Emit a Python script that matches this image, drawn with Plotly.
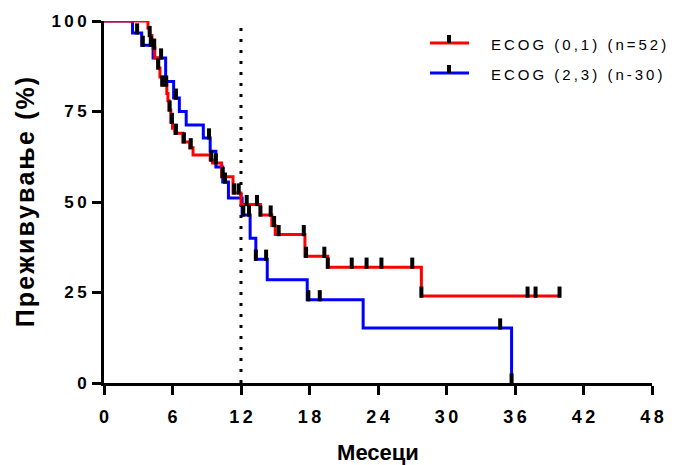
import plotly.graph_objects as go

# ---- data ----
red_t = [0, 3.85, 4.0, 4.2, 4.3, 4.45, 4.7, 4.9, 5.1, 5.5, 5.6, 5.7, 5.85, 6.0, 6.2, 6.9, 7.5, 7.8, 9.3, 9.5, 10.3, 11.3, 12.0, 13.7, 14.7, 15.0, 17.6, 19.6, 27.8, 40.0]
red_s = [100, 98, 96, 94, 92.5, 89.8, 87, 84.5, 82.3, 80, 78, 75.4, 72, 70.4, 69, 66.6, 65, 63, 61.6, 60.8, 57, 52.5, 49.3, 46.4, 43.5, 41, 35, 32, 24, 24]
red_cens_t = [4.0, 4.4, 4.75, 5.1, 5.45, 5.75, 5.95, 6.3, 7.0, 7.6, 9.4, 9.8, 10.4, 11.4, 11.8, 12.5, 13.4, 13.7, 14.6, 14.9, 15.3, 17.5, 17.7, 19.3, 19.6, 21.7, 23.0, 24.3, 27.0, 27.8, 37.1, 37.8, 39.9]

blue_t = [0, 2.5, 3.3, 4.3, 5.4, 6.1, 6.6, 7.2, 8.7, 9.3, 9.8, 10.4, 10.9, 12.1, 12.8, 13.3, 14.3, 17.8, 22.7, 35.7]
blue_s = [100, 96.7, 93.3, 89.8, 83.3, 78.7, 75, 71.3, 67.7, 64, 59.7, 55.5, 51.1, 46.4, 40, 34.2, 28.5, 23, 15.2, 0]
blue_cens_t = [2.9, 3.4, 4.1, 5.0, 6.3, 9.2, 10.6, 12.2, 12.7, 13.3, 14.2, 17.9, 18.9, 34.7, 35.7]

series_names = ["ECOG (0,1) (n=52)", "ECOG (2,3) (n-30)"]
series_colors = ["#ff0000", "#0000ff"]
x_ticks = [0, 6, 12, 18, 24, 30, 36, 42, 48]
y_ticks = [0, 25, 50, 75, 100]
ref_month = 12
x_title = "Месеци"
y_title = "Преживување (%)"

TICK_LIFT = 1.1  # censor tick sits just above the line (in % units)

W, H = 689, 465
ML, MR, MT, MB = 104, 37, 21, 82
PW, PH = W - ML - MR, H - MT - MB


def px_x(px):
    return (px - ML) / PW


def px_y(py):
    return (H - MB - py) / PH


def step_value(ts, ss, t):
    v = ss[0]
    for ti, si in zip(ts, ss):
        if ti <= t:
            v = si
    return v


def spaced(s, sep="\u2009"):
    return sep.join(list(s))


def legend_text(s):
    out = []
    for word in s.split(" "):
        out.append("\u2009".join(list(word)))
    return "\u2009 \u2009".join(out)


FONT = "Liberation Sans, Arial, sans-serif"
fig = go.Figure()

curves = [(red_t, red_s, red_cens_t), (blue_t, blue_s, blue_cens_t)]
for idx in [1, 0]:
    ts, ss, cs = curves[idx]
    fig.add_trace(go.Scatter(x=ts, y=ss, mode="lines", line=dict(color=series_colors[idx], width=3, shape="hv"),
                             showlegend=False, hoverinfo="skip", cliponaxis=False))
for idx in [1, 0]:
    ts, ss, cs = curves[idx]
    cy = [step_value(ts, ss, c) + TICK_LIFT for c in cs]
    fig.add_trace(go.Scatter(x=cs, y=cy, mode="markers",
                             marker=dict(symbol="line-ns", size=8, color="black", line=dict(color="black", width=4)),
                             showlegend=False, hoverinfo="skip", cliponaxis=False))

# legend built from paper-positioned shapes and text
legend_rows_py = [43, 73]
for idx in [0, 1]:
    py = legend_rows_py[idx]
    fig.add_shape(type="line", xref="paper", yref="paper", x0=px_x(430), x1=px_x(469), y0=px_y(py), y1=px_y(py),
                  line=dict(color=series_colors[idx], width=3))
    fig.add_shape(type="line", xref="paper", yref="paper", x0=px_x(449), x1=px_x(449), y0=px_y(py), y1=px_y(py - 8),
                  line=dict(color="black", width=4))
    fig.add_annotation(xref="paper", yref="paper", x=px_x(489), y=px_y(py + 1), xanchor="left", yanchor="middle",
                       text=legend_text(series_names[idx]), showarrow=False,
                       font=dict(size=15, family=FONT, color="black"))

fig.add_shape(type="line", x0=ref_month, x1=ref_month, y0=0, y1=100, xref="x", yref="y",
              line=dict(color="black", width=3, dash="3px,8px"), layer="below")

fig.update_layout(
    width=W, height=H,
    margin=dict(l=ML, r=MR, t=MT, b=MB, autoexpand=False),
    paper_bgcolor="white", plot_bgcolor="white",
    font=dict(family=FONT, color="black"),
    showlegend=False,
    xaxis=dict(range=[0, 48], tickvals=x_ticks, ticktext=[spaced(str(v)) for v in x_ticks], automargin=False,
               showgrid=False, zeroline=False, showline=True, linecolor="black", linewidth=3,
               ticks="outside", ticklen=9, tickwidth=3, tickcolor="black", ticklabelstandoff=6,
               tickfont=dict(size=18, family=FONT, weight="bold"),
               title=dict(text=x_title, font=dict(size=22, family=FONT, weight="bold"), standoff=20)),
    yaxis=dict(range=[0, 100], tickvals=y_ticks, ticktext=[spaced(str(v)) for v in y_ticks], automargin=False,
               showgrid=False, zeroline=False, showline=True, linecolor="black", linewidth=3,
               ticks="outside", ticklen=9, tickwidth=3, tickcolor="black", ticklabelstandoff=2,
               tickfont=dict(size=17, family=FONT, weight="bold"),
               title=dict(text=spaced(y_title, "\u200a"), font=dict(size=25, family=FONT, weight="bold"), standoff=10)),
)

fig.write_html("out.html")
